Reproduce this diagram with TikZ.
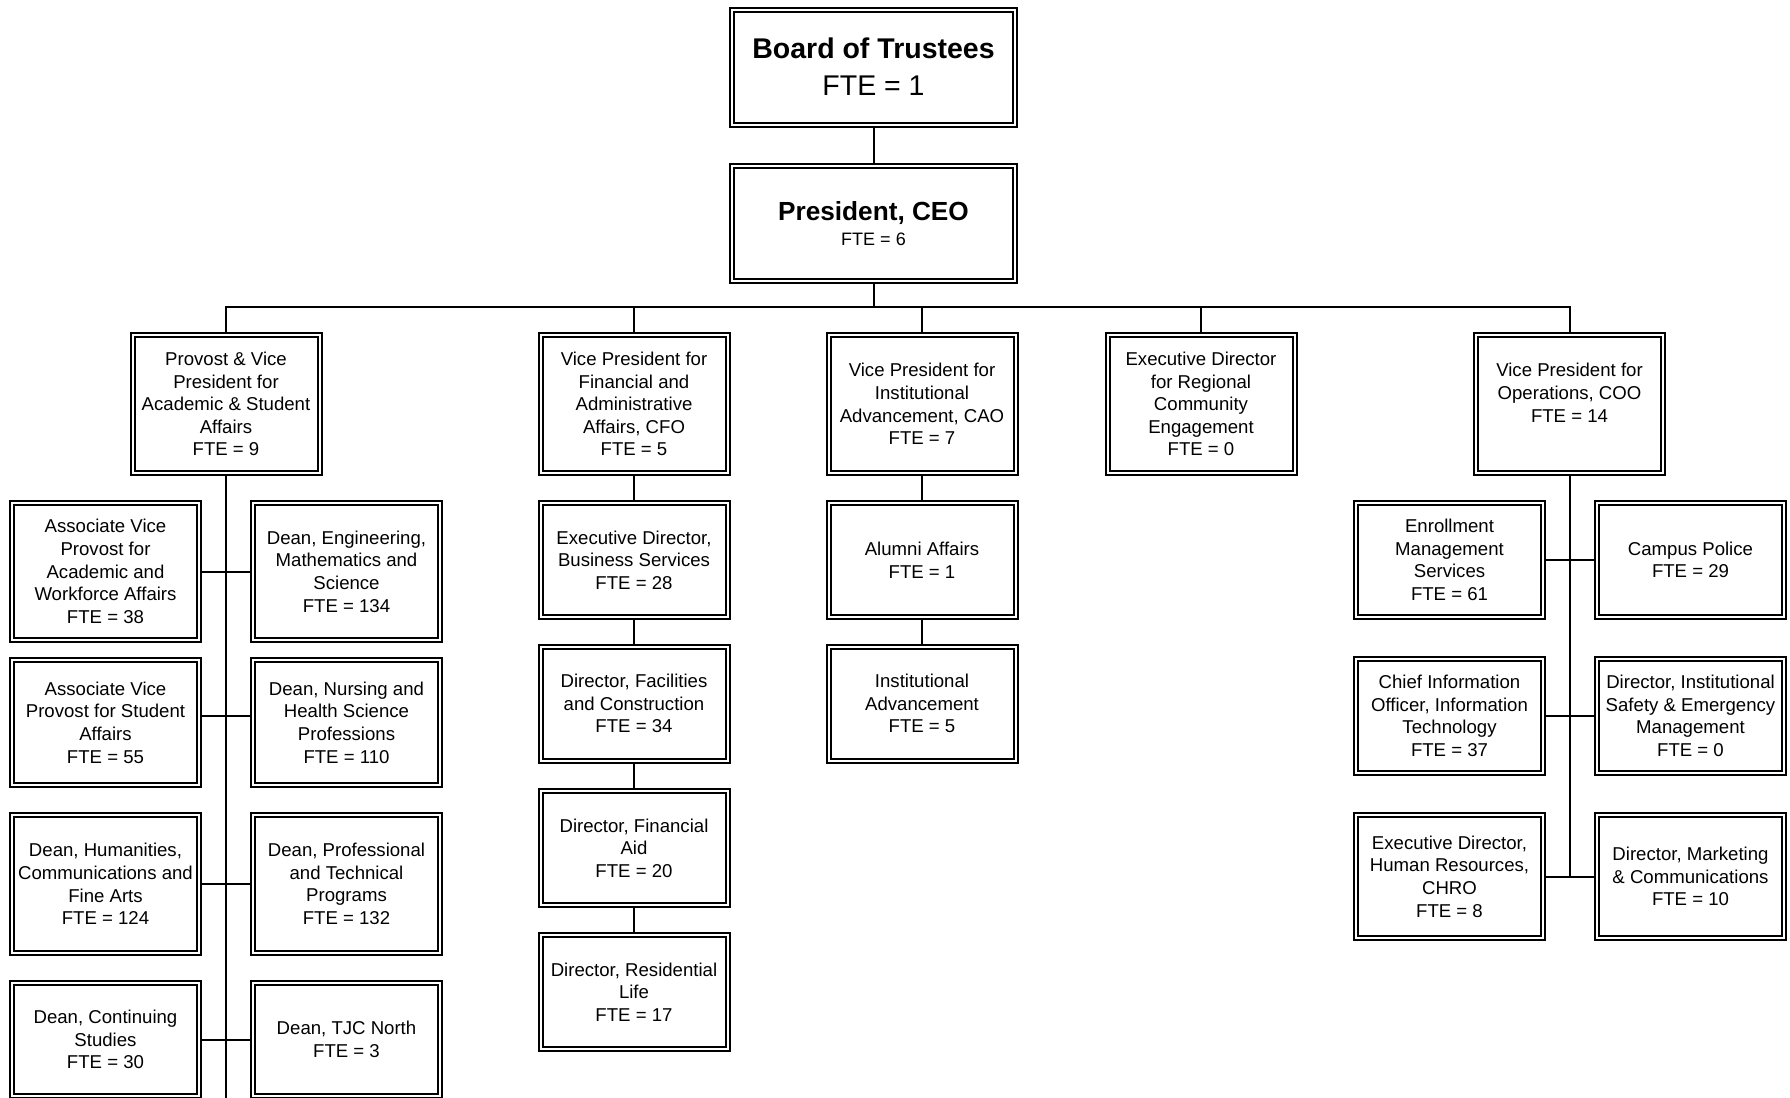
\documentclass[tikz,border=0pt]{standalone}
\usepackage{fontspec}
\setmainfont{Liberation Sans}
\usetikzlibrary{backgrounds}

\tikzset{
  unit/.style={draw, fill=white, double, double distance=1pt, line width=1pt,
    align=center, inner sep=0pt, minimum width=93.5pt, minimum height=57pt,
    font=\fontsize{9.3}{11.3}\selectfont},
  head/.style={unit, minimum width=141.5pt, minimum height=57.5pt},
  vpunit/.style={unit, minimum height=69pt},
  link/.style={line width=1pt},
}

\begin{document}
\begin{tikzpicture}[x=0.5pt, y=-0.5pt]
\useasboundingbox (0,0) rectangle (1790,1098);

% top of the chart
\node[head, font=\fontsize{14.25}{18.5}\selectfont] (board) at (873.5,67)
  {{\bfseries Board of Trustees}\\FTE = 1};
\node[head, font=\fontsize{13.1}{12.5}\selectfont] (pres) at (873.5,223.5)
  {{\bfseries President, CEO}\\{\fontsize{9}{12.5}\selectfont FTE = 6}};
\coordinate (bus) at (873.5,307);

% vice presidents
\node[vpunit] (prov)  at (226,404)    {Provost \& Vice\\President for\\Academic \& Student\\Affairs\\FTE = 9};
\node[vpunit] (vpfin) at (634,404)    {Vice President for\\Financial and\\Administrative\\Affairs, CFO\\FTE = 5};
\node[vpunit] (vpia)  at (922,404)    {Vice President for\\Institutional\\Advancement, CAO\\FTE = 7};
\node[vpunit] (edrce) at (1201,404)   {Executive Director\\for Regional\\Community\\Engagement\\FTE = 0};
\node[vpunit] (vpops) at (1569.5,404) {Vice President for\\Operations, COO\\FTE = 14\\\mbox{}};

% academic and student affairs
\node[unit, minimum height=68.5pt] (pa1) at (105.5,571.5) {Associate Vice\\Provost for\\Academic and\\Workforce Affairs\\FTE = 38};
\node[unit, minimum height=68.5pt] (pd1) at (346.5,571.5) {Dean, Engineering,\\Mathematics and\\Science\\FTE = 134};
\node[unit, minimum height=62.5pt] (pa2) at (105.5,722.5) {Associate Vice\\Provost for Student\\Affairs\\FTE = 55};
\node[unit, minimum height=62.5pt] (pd2) at (346.5,722.5) {Dean, Nursing and\\Health Science\\Professions\\FTE = 110};
\node[unit, minimum height=69pt]   (pa3) at (105.5,884)   {Dean, Humanities,\\Communications and\\Fine Arts\\FTE = 124};
\node[unit, minimum height=69pt]   (pd3) at (346.5,884)   {Dean, Professional\\and Technical\\Programs\\FTE = 132};
\node[unit, minimum height=56.5pt] (pa4) at (105.5,1039.5) {Dean, Continuing\\Studies\\FTE = 30};
\node[unit, minimum height=56.5pt] (pd4) at (346.5,1039.5) {Dean, TJC North\\FTE = 3};
\coordinate (provend) at (226,1098);

% financial and administrative affairs
\node[unit] (fbs) at (634,560)   {Executive Director,\\Business Services\\FTE = 28};
\node[unit] (ffc) at (634,703.5) {Director, Facilities\\and Construction\\FTE = 34};
\node[unit] (ffa) at (634,848)   {Director, Financial\\Aid\\FTE = 20};
\node[unit] (frl) at (634,992)   {Director, Residential\\Life\\FTE = 17};

% institutional advancement
\node[unit] (iaa) at (922,560)   {Alumni Affairs\\FTE = 1};
\node[unit] (iia) at (922,703.5) {Institutional\\Advancement\\FTE = 5};

% operations
\node[unit] (oem) at (1449.5,560) {Enrollment\\Management\\Services\\FTE = 61};
\node[unit] (ocp) at (1690.5,560) {Campus Police\\FTE = 29};
\node[unit] (oit) at (1449.5,716) {Chief Information\\Officer, Information\\Technology\\FTE = 37};
\node[unit] (ose) at (1690.5,716) {Director, Institutional\\Safety \& Emergency\\Management\\FTE = 0};
\node[unit, minimum height=61.5pt] (ohr) at (1449.5,876.5) {Executive Director,\\Human Resources,\\CHRO\\FTE = 8};
\node[unit, minimum height=61.5pt] (omc) at (1690.5,876.5) {Director, Marketing\\\& Communications\\FTE = 10};

% reporting lines
\begin{scope}[on background layer]
  \draw[link] (board) -- (pres) -- (bus);
  \draw[link] (prov) |- (bus) -| (vpops);
  \draw[link] (vpfin) -- (vpfin |- bus);
  \draw[link] (vpia) -- (vpia |- bus);
  \draw[link] (edrce) -- (edrce |- bus);
  \draw[link] (prov) -- (provend);
  \draw[link] (pa1) -- (pd1);
  \draw[link] ([yshift=3.25pt]pa2.center) -- ([yshift=3.25pt]pd2.center);
  \draw[link] (pa3) -- (pd3);
  \draw[link] (pa4) -- (pd4);
  \draw[link] (vpfin) -- (fbs) -- (ffc) -- (ffa) -- (frl);
  \draw[link] (vpia) -- (iaa) -- (iia);
  \draw[link] (vpops) -- (vpops |- ohr);
  \draw[link] (oem) -- (ocp);
  \draw[link] (oit) -- (ose);
  \draw[link] (ohr) -- (omc);
\end{scope}
\end{tikzpicture}
\end{document}
